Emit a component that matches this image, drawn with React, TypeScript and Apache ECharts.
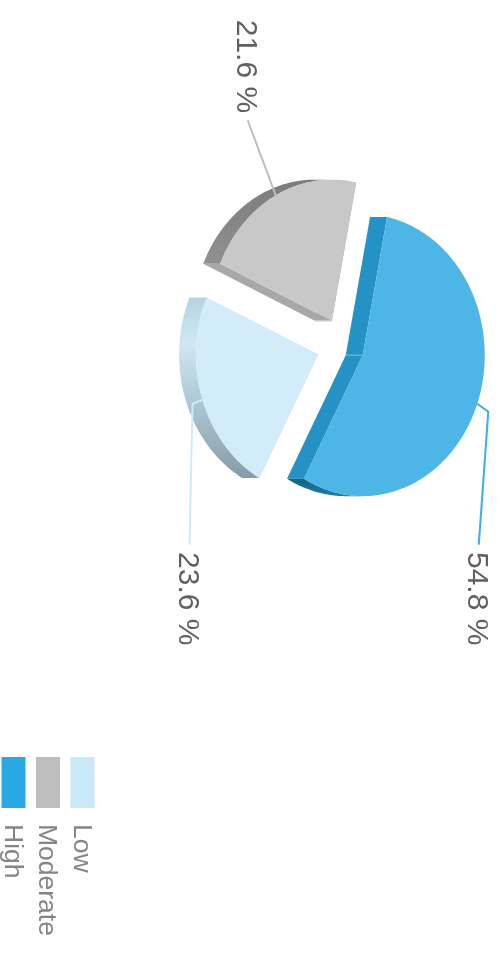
import React, { useEffect, useRef } from "react";
import * as echarts from "echarts";

const categories = ["High", "Low", "Moderate"];
const values = [54.8, 23.6, 21.6];
const legendOrder = ["Low", "Moderate", "High"];
const topColors = ["#4DB6E7", "#D3ECFA", "#C8C8C8"];
const legendColors = ["#2AA8E3", "#C9E9F8", "#BDBDBD"];
const edgeColors = ["#2592C5", "#B5D2DE", "#A8A8A8"];
const lineColors = ["#38AFE6", "#CDEBFA", "#BEBEBE"];
const wallStops: [number, string][][] = [
  [[0, "#15607F"], [1, "#2080AB"]],
  [[0, "#B5D3DF"], [0.25, "#CFE9F4"], [0.6, "#AAC6D1"], [1, "#879CA5"]],
  [[0, "#7C7C7C"], [1, "#909090"]],
];
// label-line elbow and label centre, relative to the line's start on the rim
const elbowOffsets = [[8, -11], [4, 10], null];
const labelOffsets = [[195, -1.5], [199, 13], [-129, 28]];
// small per-slice shift of the exploded slice
const sliceNudge = [0, -1, -3];

const START_ANGLE = 168.5;
const CX = 345.5;
const CY = 161;
const RX = 141;
const RY = 122;
const EXPLODE = 28;
const DEPTH = 17;

const total = values.reduce((a, b) => a + b, 0);
const rad = (d: number) => (d * Math.PI) / 180;

function renderSlice(params: any) {
  const i = params.seriesIndex;
  const before = values.slice(0, i).reduce((a, b) => a + b, 0);
  const a0 = START_ANGLE - (before / total) * 360;
  const a1 = a0 - (values[i] / total) * 360;
  const mid = (a0 + a1) / 2;
  const ox = CX + EXPLODE * Math.cos(rad(mid));
  const oy = CY - EXPLODE * (RY / RX) * Math.sin(rad(mid)) + sliceNudge[i];
  const rim = (a: number, d = 0): number[] => [
    ox + RX * Math.cos(rad(a)),
    oy - RY * Math.sin(rad(a)) + d,
  ];
  const apex = [ox, oy];
  const apexLow = [ox, oy + DEPTH];
  const arc: number[][] = [];
  for (let a = a0; a > a1; a -= 1) arc.push(rim(a));
  arc.push(rim(a1));

  // outer wall: only where the rim faces the viewer
  const wallAngles: number[] = [];
  for (let a = a0; a > a1; a -= 1) if (Math.sin(rad(a)) < 0) wallAngles.push(a);
  if (Math.sin(rad(a1)) < 0) wallAngles.push(a1);
  const wallTop = wallAngles.map((a) => rim(a));
  const wallBottom = wallAngles.map((a) => rim(a, DEPTH)).reverse();

  const quad = (a: number) => [apex, rim(a), rim(a, DEPTH), apexLow];
  const start = rim(mid);
  const end = [start[0] + labelOffsets[i][0], start[1] + labelOffsets[i][1]];
  const dir = Math.sign(labelOffsets[i][0]);
  const lineEnd = [end[0] - dir * 54, end[1]];
  const elbow = elbowOffsets[i];
  const linePts = elbow
    ? [start, [start[0] + elbow[0], start[1] + elbow[1]], lineEnd]
    : [start, lineEnd];

  const children: any[] = [
    { type: "polygon", silent: true, shape: { points: quad(a0) }, style: { fill: edgeColors[i] } },
    { type: "polygon", silent: true, shape: { points: quad(a1) }, style: { fill: edgeColors[i] } },
    {
      type: "line",
      silent: true,
      shape: { x1: apex[0], y1: apex[1], x2: apexLow[0], y2: apexLow[1] },
      style: { stroke: topColors[i], lineWidth: 1.5 },
    },
  ];
  if (wallTop.length > 1) {
    children.push({
      type: "polygon",
      silent: true,
      shape: { points: [...wallTop, ...wallBottom] },
      style: {
        fill: new echarts.graphic.LinearGradient(
          0, 0, 1, 0,
          wallStops[i].map(([offset, color]) => ({ offset, color }))
        ),
      },
    });
  }
  children.push({
    type: "polygon",
    silent: true,
    shape: { points: [apex, ...arc] },
    style: { fill: topColors[i] },
  });
  children.push({
    type: "polyline",
    silent: true,
    shape: { points: linePts },
    style: { stroke: lineColors[i], lineWidth: 2, fill: "none" },
  });
  children.push({
    type: "text",
    silent: true,
    x: end[0],
    y: end[1],
    style: {
      text: values[i].toFixed(1) + " %",
      fill: "#606060",
      font: '30px "Liberation Sans", Arial, sans-serif',
      align: "center",
      verticalAlign: "middle",
    },
  });
  return { type: "group", children };
}

export default function App() {
  const ref = useRef<HTMLDivElement>(null);
  useEffect(() => {
    const chart = echarts.init(ref.current!, undefined, { renderer: "svg" });
    chart.setOption({
      animation: false,
      backgroundColor: "#ffffff",
      legend: {
        orient: "vertical",
        left: 757,
        top: 405,
        height: 300,
        data: legendOrder,
        icon: "rect",
        itemWidth: 51,
        itemHeight: 24,
        itemGap: 7.5,
        padding: 0,
        selectedMode: false,
        textStyle: {
          color: "#858585",
          fontSize: 26.5,
          lineHeight: 24,
          fontFamily: '"Liberation Sans", Arial, sans-serif',
          padding: [0, 0, 0, 11],
        },
      },
      series: categories.map((name, i) => ({
        type: "custom",
        name,
        coordinateSystem: "none",
        data: [[values[i]]],
        itemStyle: { color: legendColors[i] },
        renderItem: renderSlice,
      })),
    });
    return () => chart.dispose();
  }, []);
  return (
    <div style={{ position: "absolute", left: 0, top: 0, width: 501, height: 956, overflow: "hidden", filter: "blur(0.7px)" }}>
      <div
        ref={ref}
        style={{
          position: "absolute",
          left: 501,
          top: 0,
          width: 956,
          height: 501,
          transform: "rotate(90deg)",
          transformOrigin: "0 0",
        }}
      />
    </div>
  );
}
